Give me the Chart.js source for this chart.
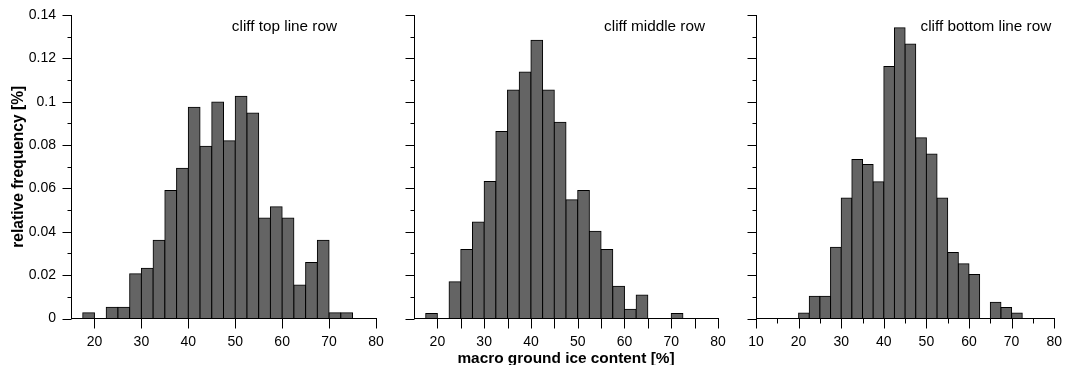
<!DOCTYPE html>
<html>
<head>
<meta charset="utf-8">
<script src="https://cdn.jsdelivr.net/npm/chart.js"></script>
<style>
    html, body { margin: 0; padding: 0; background: #fff; }
    #wrap { position: relative; width: 1067px; height: 365px; overflow: hidden; }
    #wrap canvas { position: absolute; left: 0; top: 0; }
</style>
</head>
<body>
<div id="wrap">
    <canvas id="topLineChart" width="1067" height="365"></canvas>
    <canvas id="middleChart" width="1067" height="365"></canvas>
    <canvas id="bottomLineChart" width="1067" height="365"></canvas>
</div>
<script>
// histogram bins (left edges, 2.5 % wide)
const binStarts = [17.5, 20, 22.5, 25, 27.5, 30, 32.5, 35, 37.5, 40, 42.5, 45,
                   47.5, 50, 52.5, 55, 57.5, 60, 62.5, 65, 67.5, 70, 72.5];
const binWidth = 2.5;

// relative frequencies
const topLineRow = [0.0026, 0, 0.0052, 0.0052, 0.0206, 0.0232, 0.0361, 0.0590, 0.0693, 0.0974, 0.0794, 0.0999,
                    0.0820, 0.1025, 0.0948, 0.0464, 0.0515, 0.0464, 0.0155, 0.0258, 0.0361, 0.0026, 0.0026];
const middleRow = [0.0023, 0, 0.0169, 0.0318, 0.0445, 0.0632, 0.0863, 0.1054, 0.1137, 0.1283, 0.1054, 0.0905,
                   0.0548, 0.0591, 0.0403, 0.0318, 0.0149, 0.0043, 0.0108, 0, 0, 0.0023, 0];
const bottomLineRow = [0, 0.0025, 0.0103, 0.0103, 0.0329, 0.0556, 0.0733, 0.0710, 0.0631, 0.1163, 0.1341, 0.1266,
                       0.0834, 0.0759, 0.0556, 0.0304, 0.0253, 0.0203, 0, 0.0075, 0.0051, 0.0025, 0];

// tick labels and tick marks
const yTickLabels = [0, 0.02, 0.04, 0.06, 0.08, 0.1, 0.12, 0.14];
const yTickMarks = [0, 0.01, 0.02, 0.03, 0.04, 0.05, 0.06, 0.07, 0.08, 0.09, 0.1, 0.11, 0.12, 0.13, 0.14];
const xTickLabels = [20, 30, 40, 50, 60, 70, 80];
const xTickLabelsWide = [10, 20, 30, 40, 50, 60, 70, 80];
const xMarksTop = [20, 30, 40, 50, 60, 70, 80];
const xMarksMiddle = [20, 25, 30, 35, 40, 45, 50, 55, 60, 65, 70, 75, 80];
const xMarksBottom = [10, 15, 20, 25, 30, 35, 40, 45, 50, 55, 60, 65, 70, 75, 80];

const W = 1067;
const FONT = '"Liberation Sans", Arial, sans-serif';
const barFill = '#646464';

// draws the short outward tick marks (major / minor) on both axes
const axisMarks = {
    id: 'axisMarks',
    afterDraw(chart, args, opts) {
        const { ctx, chartArea } = chart;
        const xs = chart.scales.x, ys = chart.scales.y;
        ctx.save();
        ctx.strokeStyle = '#000';
        ctx.lineWidth = 1;
        ctx.beginPath();
        const ax = Math.round(chartArea.left) + 0.5;
        yTickMarks.forEach(v => {
            const py = Math.round(ys.getPixelForValue(v)) + 0.5;
            const len = Math.round(v * 100) % 2 === 0 ? 9 : 4;
            ctx.moveTo(ax - len, py);
            ctx.lineTo(ax, py);
        });
        const ay = Math.round(chartArea.bottom) - 0.5;
        opts.marks.forEach(v => {
            const px = Math.round(xs.getPixelForValue(v)) + 0.5;
            const len = v % 10 === 0 ? 10 : opts.minorLen;
            ctx.moveTo(px, ay);
            ctx.lineTo(px, ay + len);
        });
        ctx.stroke();
        ctx.restore();
    }
};

// panel caption in the upper right
const panelLabel = {
    id: 'panelLabel',
    afterDraw(chart, args, opts) {
        const { ctx, chartArea } = chart;
        ctx.save();
        ctx.font = '15.3px ' + FONT;
        ctx.fillStyle = '#000';
        ctx.textAlign = 'right';
        ctx.textBaseline = 'alphabetic';
        ctx.fillText(opts.text, chartArea.right - opts.inset, 31);
        ctx.restore();
    }
};

function makePanel(canvasId, values, p) {
    const tickFont = { family: FONT, size: 14 };
    return new Chart(document.getElementById(canvasId), {
        type: 'bar',
        data: {
            datasets: [{
                data: binStarts.map((s, i) => ({ x: s + binWidth / 2, y: values[i] })),
                backgroundColor: barFill,
                borderColor: '#000',
                borderWidth: 1,
                borderSkipped: false,
                inflateAmount: 0.5,
                barPercentage: 1,
                categoryPercentage: 1
            }]
        },
        options: {
            responsive: false,
            animation: false,
            events: [],
            layout: { padding: { left: p.left - p.yWidth, right: W - p.right, top: 15, bottom: 0 } },
            plugins: {
                legend: { display: false },
                tooltip: { enabled: false },
                axisMarks: { marks: p.marks, minorLen: p.minorLen },
                panelLabel: { text: p.label, inset: p.labelInset }
            },
            scales: {
                x: {
                    type: 'linear',
                    min: p.xMin,
                    max: 80,
                    offset: false,
                    grid: { display: false, drawTicks: true, tickLength: 10 },
                    border: { display: true, color: '#000', width: 1 },
                    afterBuildTicks: s => { s.ticks = p.xTicks.map(v => ({ value: v })); },
                    afterFit: s => { s.height = 46.5; },
                    ticks: { autoSkip: false, maxRotation: 0, padding: 5, color: '#000', font: tickFont },
                    title: {
                        display: !!p.xTitle,
                        text: p.xTitle || '',
                        color: '#000',
                        font: { family: FONT, size: 15.4, weight: 'bold', lineHeight: 1 },
                        padding: { top: 0, bottom: -1 }
                    }
                },
                y: {
                    min: 0,
                    max: 0.14,
                    grid: { display: false, drawTicks: true, tickLength: 9 },
                    border: { display: true, color: '#000', width: 1 },
                    afterBuildTicks: s => { s.ticks = yTickLabels.map(v => ({ value: v })); },
                    afterFit: s => { s.width = p.yWidth; },
                    ticks: {
                        display: p.yLabels,
                        autoSkip: false,
                        padding: 6,
                        color: '#000',
                        font: tickFont,
                        callback: v => String(+v.toFixed(2))
                    },
                    title: {
                        display: p.yLabels,
                        text: 'relative frequency [%]',
                        color: '#000',
                        font: { family: FONT, size: 15.6, weight: 'bold', lineHeight: 1 },
                        padding: { top: 11, bottom: 0 }
                    }
                }
            }
        },
        plugins: [axisMarks, panelLabel]
    });
}

makePanel('topLineChart', topLineRow, {
    left: 71, right: 376, yWidth: 71, yLabels: true, xMin: 15,
    xTicks: xTickLabels, marks: xMarksTop, minorLen: 0,
    label: 'cliff top line row', labelInset: 39
});
makePanel('middleChart', middleRow, {
    left: 414, right: 718, yWidth: 20, yLabels: false, xMin: 15,
    xTicks: xTickLabels, marks: xMarksMiddle, minorLen: 10,
    label: 'cliff middle row', labelInset: 13, xTitle: 'macro ground ice content [%]'
});
makePanel('bottomLineChart', bottomLineRow, {
    left: 756, right: 1060, yWidth: 20, yLabels: false, xMin: 10,
    xTicks: xTickLabelsWide, marks: xMarksBottom, minorLen: 5,
    label: 'cliff bottom line row', labelInset: 3
});
</script>
</body>
</html>
